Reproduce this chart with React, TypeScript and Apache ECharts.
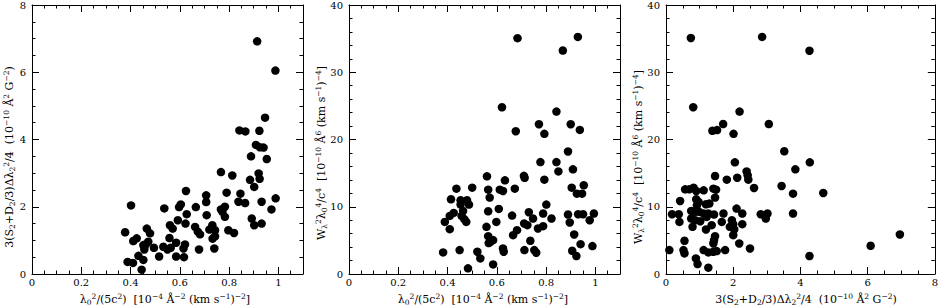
import React, { useEffect, useRef } from "react";
import * as echarts from "echarts";

// ---- tick labels ----
const xTicksLam = [0, 0.2, 0.4, 0.6, 0.8, 1];
const xTicksS = [0, 2, 4, 6, 8];
const yTicksS = [0, 2, 4, 6, 8];
const yTicksW = [0, 10, 20, 30, 40];

// ---- axis titles (^ = superscript, _ = subscript) ----
const nameLam = "λ_0^2/(5c^2)  [10^{−4} Å^{−2} (km s^{−1})^{−2}]";
const nameS = "3(S_2+D_2/3)Δλ_2^2/4  (10^{−10} Å^2 G^{−2})";
const nameW = "W_λ^2λ_0^4/c^4  [10^{−10} Å^6 (km s^{−1})^{−4}]";

// ---- panel 1: λ0²/(5c²)  vs  3(S+D/3)Δλ²/4 ----
const lamVsS: [number, number][] = [
  [0.914, 6.92], [0.988, 6.05], [0.946, 4.65], [0.842, 4.27], [0.866, 4.24], [0.923, 4.26],
  [0.909, 3.84], [0.925, 3.77], [0.94, 3.76], [0.889, 3.5], [0.953, 3.42],
  [0.402, 2.04], [0.378, 1.24], [0.388, 0.36], [0.41, 0.33], [0.445, 0.13], [0.452, 0.42],
  [0.432, 0.54], [0.411, 0.98], [0.425, 1.06], [0.466, 1.35], [0.479, 1.21], [0.452, 0.86],
  [0.472, 0.96], [0.456, 0.73], [0.495, 0.78], [0.462, 0.88],
  [0.516, 0.52], [0.537, 1.95], [0.533, 0.81], [0.56, 1.45], [0.571, 1.35], [0.558, 1.07],
  [0.563, 0.78], [0.585, 0.93], [0.55, 0.73],
  [0.592, 1.6], [0.597, 1.99], [0.604, 2.07], [0.625, 2.47], [0.628, 1.78], [0.623, 1.5],
  [0.621, 0.88], [0.615, 0.76], [0.585, 0.52], [0.617, 0.5],
  [0.665, 1.99], [0.662, 1.4], [0.673, 1.26], [0.682, 1.18], [0.678, 0.73], [0.707, 2.34],
  [0.707, 2.14], [0.709, 1.75], [0.72, 1.32], [0.732, 1.45], [0.743, 1.3], [0.733, 1.05],
  [0.743, 1.12], [0.74, 0.76],
  [0.767, 3.03], [0.813, 2.93], [0.79, 2.42], [0.767, 1.92], [0.783, 2.0], [0.773, 1.85],
  [0.783, 1.7], [0.797, 1.3], [0.82, 1.22], [0.846, 2.39], [0.838, 2.15], [0.865, 2.11],
  [0.885, 2.8], [0.902, 2.59], [0.92, 2.99], [0.924, 2.83], [0.892, 1.65], [0.902, 1.45],
  [0.932, 1.5], [0.932, 2.15], [0.972, 1.92], [0.989, 2.25],
];

// ---- panel 2: λ0²/(5c²)  vs  Wλ²λ0⁴/c⁴ ----
const lamVsW: [number, number][] = [
  [0.684, 35.07], [0.929, 35.26], [0.868, 33.23], [0.621, 24.79], [0.842, 24.15], [0.771, 22.27],
  [0.9, 22.27], [0.677, 21.23], [0.793, 20.84], [0.937, 21.43], [0.889, 18.22],
  [0.777, 16.64], [0.842, 16.64], [0.85, 15.26], [0.909, 15.56], [0.56, 14.52], [0.71, 14.6],
  [0.713, 14.3], [0.633, 13.93], [0.793, 14.03], [0.436, 12.69], [0.5, 12.84], [0.565, 12.54],
  [0.612, 12.54], [0.625, 12.35], [0.673, 12.69], [0.904, 12.84], [0.953, 13.19], [0.925, 11.95],
  [0.946, 11.95], [0.571, 11.36], [0.414, 11.11], [0.453, 10.96], [0.479, 10.96], [0.453, 10.32],
  [0.487, 10.32], [0.801, 10.32], [0.425, 9.08], [0.409, 8.64], [0.463, 9.38], [0.457, 8.64],
  [0.468, 8.15], [0.476, 7.75], [0.389, 7.75], [0.409, 6.67], [0.565, 9.33], [0.608, 9.68],
  [0.598, 7.75], [0.558, 7.01], [0.662, 8.69], [0.73, 9.19], [0.747, 8.25], [0.711, 7.51],
  [0.724, 7.26], [0.788, 8.99], [0.767, 6.77], [0.788, 7.11], [0.822, 8.25], [0.889, 8.84],
  [0.896, 7.66], [0.93, 8.89], [0.95, 8.89], [0.994, 8.99], [0.977, 8.0], [0.914, 5.88],
  [0.94, 4.44], [0.988, 4.15], [0.906, 3.45], [0.923, 2.67], [0.666, 5.78], [0.682, 6.52],
  [0.736, 4.94], [0.712, 3.56], [0.752, 3.56], [0.76, 3.16], [0.625, 3.8], [0.628, 3.31],
  [0.565, 5.63], [0.574, 4.79], [0.585, 5.04], [0.567, 4.6], [0.521, 3.31], [0.533, 2.32],
  [0.585, 1.43], [0.483, 0.84], [0.382, 3.21], [0.449, 3.56],
];

// ---- panel 3: 3(S+D/3)Δλ²/4  vs  Wλ²λ0⁴/c⁴ ----
const sVsW: [number, number][] = [
  [0.74, 35.1], [2.86, 35.26], [4.27, 33.2], [0.81, 24.8], [2.19, 24.15], [1.7, 22.3],
  [3.06, 22.3], [1.38, 21.3], [1.52, 21.4], [2.01, 20.84], [3.52, 18.25], [4.28, 16.6],
  [2.05, 16.6], [3.85, 15.56], [2.4, 15.26], [2.43, 14.67], [2.45, 14.03], [1.46, 14.57],
  [1.81, 14.03], [2.12, 14.32], [2.62, 12.79], [3.44, 13.09], [3.78, 11.95], [4.68, 12.05],
  [3.78, 8.99], [4.27, 2.67], [6.96, 5.88], [6.09, 4.2], [2.82, 8.89], [3.02, 8.99],
  [2.97, 8.25], [2.5, 3.8], [2.18, 4.54], [2.27, 8.99], [2.27, 7.41], [2.1, 9.73],
  [1.96, 8.0], [2.0, 7.41], [2.03, 6.62], [1.9, 7.01], [2.0, 5.78], [1.71, 8.99],
  [1.66, 7.75], [1.76, 3.56], [1.46, 5.63], [1.43, 5.04], [1.41, 4.54], [1.12, 3.56],
  [1.26, 3.21], [1.41, 3.31], [1.51, 3.41], [1.26, 0.94], [0.94, 1.48], [0.89, 2.32],
  [0.55, 4.94], [0.52, 3.56], [0.55, 3.06], [0.1, 3.56], [0.18, 8.89], [0.38, 8.89],
  [0.4, 7.75], [0.42, 10.86], [0.57, 12.59], [0.69, 12.59], [0.82, 12.84], [0.9, 12.35],
  [1.12, 12.44], [1.41, 12.69], [1.49, 12.54], [1.46, 11.36], [1.29, 10.47], [1.19, 10.37],
  [0.9, 11.11], [0.97, 10.72], [0.92, 10.22], [0.75, 9.38], [0.87, 9.23], [0.99, 9.23],
  [1.12, 8.99], [0.75, 8.25], [0.87, 8.0], [1.02, 7.85], [0.79, 7.01], [1.21, 8.49],
  [1.26, 8.99], [1.43, 8.84], [1.36, 7.26], [1.19, 6.62],
];

const FONT = "DejaVu Serif";

function toRich(s: string): string {
  let out = "";
  let buf = "";
  let i = 0;
  const flush = () => {
    if (buf) {
      out += `{n|${buf}}`;
      buf = "";
    }
  };
  while (i < s.length) {
    const c = s[i];
    if (c === "^" || c === "_") {
      flush();
      let t: string;
      if (s[i + 1] === "{") {
        const j = s.indexOf("}", i + 2);
        t = s.slice(i + 2, j);
        i = j + 1;
      } else {
        t = s[i + 1];
        i += 2;
      }
      out += `{${c === "^" ? "sup" : "sub"}|${t}}`;
    } else {
      buf += c;
      i++;
    }
  }
  flush();
  return out;
}

const richStyles = {
  n: { fontSize: 11, fontFamily: FONT, lineHeight: 14, fill: "#000", color: "#000" },
  sup: { fontSize: 7.5, fontFamily: FONT, lineHeight: 8, verticalAlign: "top", fill: "#000", color: "#000" },
  sub: { fontSize: 7.5, fontFamily: FONT, lineHeight: 8, verticalAlign: "bottom", fill: "#000", color: "#000" },
};

function titleText(text: string, x: number, y: number, rotate: boolean) {
  return {
    type: "text",
    x,
    y,
    rotation: rotate ? Math.PI / 2 : 0,
    style: {
      text: toRich(text),
      rich: richStyles,
      align: "center",
      verticalAlign: "middle",
      fill: "#000",
    },
  };
}

const isTick = (v: number, ticks: number[]) => ticks.some((t) => Math.abs(t - v) < 1e-6);

function makeAxes(
  grid: number,
  dim: "x" | "y",
  min: number,
  max: number,
  major: number,
  minor: number,
  ticks: number[]
) {
  const line = { show: true, onZero: false, lineStyle: { color: "#000", width: 1 } };
  const noLine = { show: false, onZero: false };
  const sides = dim === "x" ? ["bottom", "top"] : ["left", "right"];
  const axes: any[] = [];
  sides.forEach((pos, si) => {
    axes.push({
      type: "value",
      gridIndex: grid,
      position: pos,
      min,
      max,
      interval: major,
      axisLine: line,
      axisTick: { show: true, inside: true, length: 7, lineStyle: { color: "#000", width: 1 } },
      axisLabel: {
        show: si === 0,
        margin: dim === "x" ? 3 : 6,
        fontFamily: FONT,
        fontSize: 10,
        color: "#000",
        showMaxLabel: true,
        formatter: (v: number) => (isTick(v, ticks) ? String(Math.round(v * 100) / 100) : ""),
      },
      splitLine: { show: false },
    });
    axes.push({
      type: "value",
      gridIndex: grid,
      position: pos,
      min,
      max,
      interval: minor,
      axisLine: noLine,
      axisTick: { show: true, inside: true, length: 3.5, lineStyle: { color: "#000", width: 1 } },
      axisLabel: { show: false },
      splitLine: { show: false },
    });
  });
  return axes;
}

export default function App() {
  const ref = useRef<HTMLDivElement>(null);

  useEffect(() => {
    document.body.style.margin = "0";
    if (!ref.current) return;
    const chart = echarts.init(ref.current, null, { renderer: "svg" });

    const grids = [
      { left: 32, top: 4, width: 271, height: 270 },
      { left: 349, top: 4, width: 271, height: 270 },
      { left: 666, top: 4, width: 270, height: 270 },
    ];

    const xAxis = [
      ...makeAxes(0, "x", 0, 1.1, 0.2, 0.05, xTicksLam),
      ...makeAxes(1, "x", 0, 1.1, 0.2, 0.05, xTicksLam),
      ...makeAxes(2, "x", 0, 8, 2, 0.5, xTicksS),
    ];
    const yAxis = [
      ...makeAxes(0, "y", 0, 8, 2, 0.5, yTicksS),
      ...makeAxes(1, "y", 0, 40, 10, 2, yTicksW),
      ...makeAxes(2, "y", 0, 40, 10, 2, yTicksW),
    ];

    const sym = {
      type: "scatter",
      symbol: "circle",
      symbolSize: 8.5,
      itemStyle: { color: "#000", opacity: 1 },
      silent: true,
    };

    chart.setOption({
      animation: false,
      backgroundColor: "#fff",
      grid: grids,
      xAxis,
      yAxis,
      series: [
        { ...sym, xAxisIndex: 0, yAxisIndex: 0, data: lamVsS },
        { ...sym, xAxisIndex: 4, yAxisIndex: 4, data: lamVsW },
        { ...sym, xAxisIndex: 8, yAxisIndex: 8, data: sVsW },
      ],
      graphic: [
        titleText(nameLam, 165, 299, false),
        titleText(nameS, 9, 157, true),
        titleText(nameLam, 483, 299, false),
        titleText(nameW, 321, 153, true),
        titleText(nameS, 806, 299, false),
        titleText(nameW, 638, 157, true),
      ],
    });

    return () => chart.dispose();
  }, []);

  return (
    <div
      ref={ref}
      style={{ position: "absolute", left: 0, top: 0, width: 941, height: 306, background: "#fff" }}
    />
  );
}
